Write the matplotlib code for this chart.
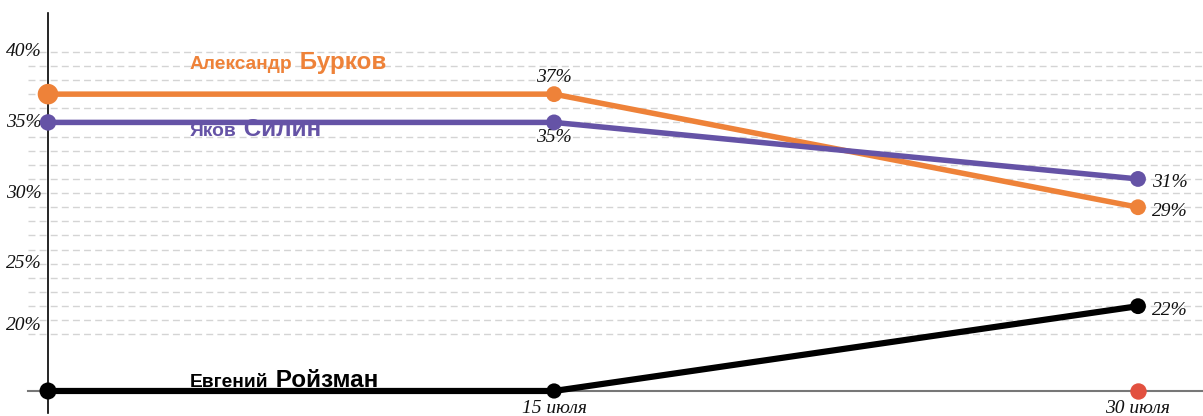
import numpy as np
import matplotlib.pyplot as plt

# poll dates (day of July) and results, %
days = [2, 15, 30]
date_ticks = [15, 30]
date_labels = ["15 июля", "30 июля"]

burkov = [37, 37, 29]
silin = [35, 35, 31]
roizman = [0, 0, 22]   # not in the first two polls
red_dot = (30, 0)

ytick_values = [40, 35, 30, 25, 20]
grid_values = list(range(20, 41))
floor = 16  # broken axis: everything below is drawn on the bottom line

ORANGE = "#ee8239"
PURPLE = "#6553a6"
BLACK = "#000000"
RED = "#e2503f"

W, H = 1203, 416
fig = plt.figure(figsize=(W / 100, H / 100), dpi=100)
ax = fig.add_axes([0, 0, 1, 1])
ax.set_axis_off()
ax.set_xlim(0.767, 31.67)
ax.set_ylim(14.23, 43.66)

serif = dict(family="Liberation Serif", style="italic", size=14, color="#111111")
sans = "Liberation Sans"

# grid and axes
ax.hlines(grid_values, 28 / W, 1, transform=ax.get_yaxis_transform(),
          colors="#d4d4d4", linewidth=1, linestyles=(0, (5, 3)), zorder=1)
ax.axvline(days[0], ymin=3 / H, ymax=1 - 13 / H, color="black", linewidth=1.2, zorder=2)
ax.axhline(floor, xmin=28 / W, color="#777777", linewidth=1.5, zorder=2)

for v in ytick_values:
    dy = 9 if v == 20 else 0
    ax.annotate(f"{v}%", xy=(42 / W, v), xycoords=ax.get_yaxis_transform(),
                xytext=(0, dy), textcoords="offset pixels",
                ha="right", va="center", **serif)

for d, lab in zip(date_ticks, date_labels):
    ax.annotate(lab, xy=(d, floor), xytext=(0, -18), textcoords="offset pixels",
                ha="center", va="center", **serif)

# series
series = [
    (burkov, ORANGE, 5.5, [220, 130, 130]),
    (silin, PURPLE, 5.5, [140, 130, 130]),
    (list(np.maximum(roizman, floor)), BLACK, 6.2, [150, 120, 130]),
]
for vals, col, lw, sizes in series:
    ax.plot(days, vals, color=col, linewidth=lw * 0.72, solid_capstyle="butt", zorder=3)
    ax.scatter(days, vals, s=sizes, color=col, zorder=4, linewidths=0)

ax.scatter([red_dot[0]], [max(red_dot[1], floor)], s=140, color=RED, zorder=4, linewidths=0)

# value labels
ax.annotate(f"{burkov[1]}%", xy=(days[1], burkov[1]), xytext=(0, 17),
            textcoords="offset pixels", ha="center", va="center", **serif)
ax.annotate(f"{silin[1]}%", xy=(days[1], silin[1]), xytext=(0, -15),
            textcoords="offset pixels", ha="center", va="center", **serif)
for vals in (silin, burkov, roizman):
    ax.annotate(f"{vals[2]}%", xy=(days[2], vals[2]), xytext=(14, -4),
                textcoords="offset pixels", ha="left", va="center", **serif)

# candidate names: small first name + large surname
names = [
    ("Александр", "Бурков", burkov[0], 25, ORANGE),
    ("Яков", "Силин", silin[0], -14, PURPLE),
    ("Евгений", "Ройзман", floor, 3.5, BLACK),
]
fig.canvas.draw()
renderer = fig.canvas.get_renderer()
for first, last, val, dy, col in names:
    t1 = ax.annotate(first, xy=(days[0], val), xytext=(142, dy), textcoords="offset pixels",
                     ha="left", va="baseline", family=sans, weight="bold",
                     size=13.8, color=col, zorder=5)
    bb = t1.get_window_extent(renderer)
    y_base = ax.transData.transform((days[0], val))[1] + dy
    ax.annotate(" " + last, xy=(bb.x1, y_base), xycoords="figure pixels",
                ha="left", va="baseline", family=sans, weight="bold",
                size=17.5, color=col, zorder=5)

fig.savefig("out.png", dpi=100)
